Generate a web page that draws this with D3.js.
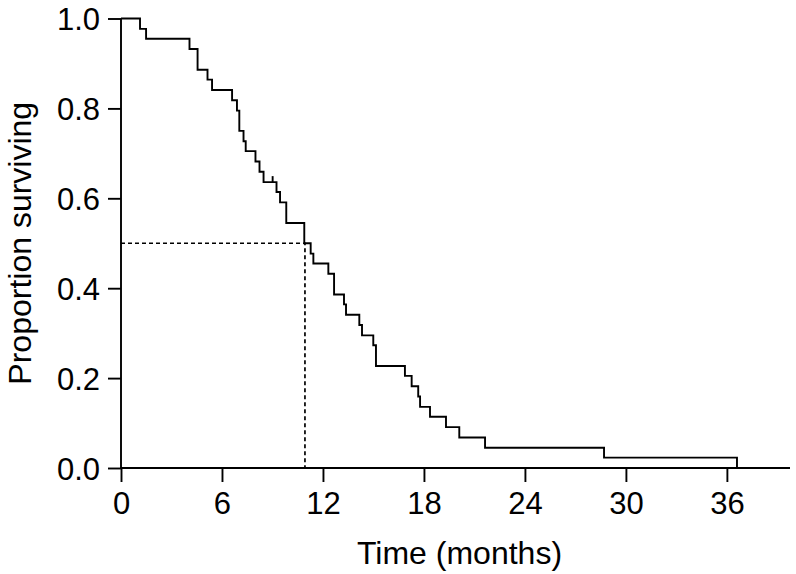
<!DOCTYPE html>
<html><head><meta charset="utf-8">
<script src="https://cdn.jsdelivr.net/npm/d3@7"></script>
<style>
html,body{margin:0;padding:0;background:#fff;}
text{font-family:"Liberation Sans",Arial,Helvetica,sans-serif;fill:#000;}
</style></head>
<body>
<svg id="chart" width="796" height="574"></svg>
<script>
// Kaplan-Meier event times (months) and survival proportion after each step
const eventTimes = [0, 1.13, 1.49, 4.07, 4.55, 5.14, 5.41, 6.60, 6.89, 7.03, 7.28, 7.41, 7.99, 8.23, 8.47,
  9.24, 9.45, 9.82, 10.89, 11.27, 11.43, 12.32, 12.66, 13.25, 13.37, 14.16, 14.32, 14.99, 15.15,
  16.87, 17.27, 17.66, 17.77, 18.36, 19.31, 20.10, 21.63, 28.70, 36.60];
const survival = [1.000, 0.977, 0.955, 0.932, 0.886, 0.864, 0.841, 0.818, 0.795, 0.750, 0.727, 0.705, 0.682, 0.659, 0.636,
  0.614, 0.591, 0.545, 0.500, 0.477, 0.455, 0.432, 0.386, 0.364, 0.341, 0.318, 0.295, 0.273, 0.227,
  0.205, 0.182, 0.159, 0.136, 0.114, 0.091, 0.068, 0.045, 0.023, 0.000];
const censorTimes = [9.01];
const censorSurv = [0.636];
const medianTime = 10.93;
const medianSurv = 0.5;
const xTicks = [0, 6, 12, 18, 24, 30, 36];
const yTicks = [0, 0.2, 0.4, 0.6, 0.8, 1.0];
const xMax = 39.75;

const svg = d3.select("#chart");
const x = d3.scaleLinear().domain([0, xMax]).range([121, 790]);
const y = d3.scaleLinear().domain([0, 1]).range([468, 18.5]);
const lw = 1.9;

// axes
const xAxis = d3.axisBottom(x).tickValues(xTicks).tickFormat(d3.format("d")).tickSizeOuter(0).tickSize(14).tickPadding(9);
const gx = svg.append("g").attr("transform", `translate(0,${y(0)})`).call(xAxis);
gx.select(".domain").attr("stroke-width", lw).attr("d", `M${x(0)},0H${x(xMax)}`);
gx.selectAll(".tick line").attr("stroke-width", lw);
gx.selectAll(".tick text").attr("font-size", 31).attr("dy", "0.75em");

const yAxis = d3.axisLeft(y).tickValues(yTicks).tickFormat(d3.format(".1f")).tickSizeOuter(0).tickSize(13).tickPadding(8);
const gy = svg.append("g").attr("transform", `translate(${x(0)},0)`).call(yAxis);
gy.select(".domain").attr("stroke-width", lw).attr("d", `M0,${y(1)}V${y(0)}`);
gy.selectAll(".tick line").attr("stroke-width", lw);
gy.selectAll(".tick text").attr("font-size", 31).attr("dy", "0.36em");

// titles
svg.append("text").attr("x", (x(0) + x(xMax)) / 2 + 4).attr("y", 564).attr("text-anchor", "middle")
  .attr("font-size", 32).text("Time (months)");
svg.append("text").attr("transform", `translate(31,${(y(0) + y(1)) / 2}) rotate(-90)`).attr("text-anchor", "middle")
  .attr("font-size", 32).text("Proportion surviving");

// median dashed lines
svg.append("path").attr("fill", "none").attr("stroke", "#000").attr("stroke-width", 1.7).attr("stroke-dasharray", "4,3")
  .attr("d", `M${x(0)},${y(medianSurv)}H${x(medianTime)}V${y(0)}`);

// KM step curve
const pts = eventTimes.map((t, i) => [t, survival[i]]);
const line = d3.line().x(d => x(d[0])).y(d => y(d[1])).curve(d3.curveStepAfter);
svg.append("path").datum(pts).attr("fill", "none").attr("stroke", "#000").attr("stroke-width", lw)
  .attr("stroke-linejoin", "miter").attr("d", line);

// censor marks
svg.selectAll(".censor").data(censorTimes).enter().append("line")
  .attr("x1", d => x(d)).attr("x2", d => x(d))
  .attr("y1", (d, i) => y(censorSurv[i])).attr("y2", (d, i) => y(censorSurv[i]) - 6)
  .attr("stroke", "#000").attr("stroke-width", lw);
</script>
</body></html>
